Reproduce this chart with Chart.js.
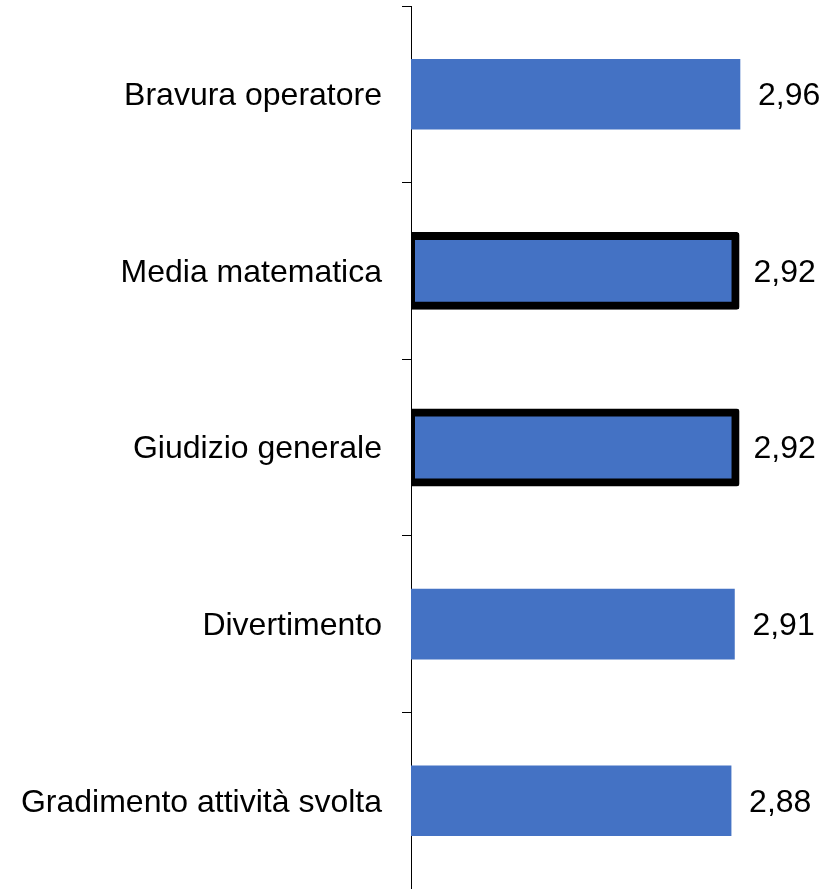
<!DOCTYPE html>
<html>
<head>
<meta charset="utf-8">
<script src="https://cdn.jsdelivr.net/npm/chart.js@4"></script>
<style>
  html, body { margin: 0; padding: 0; background: #ffffff; }
  #wrap { width: 827px; height: 889px; }
</style>
</head>
<body>
<div id="wrap"><canvas id="scoreChart"></canvas></div>
<script>
// Categories (top to bottom) and average scores
const categories = [
    'Bravura operatore',
    'Media matematica',
    'Giudizio generale',
    'Divertimento',
    'Gradimento attività svolta'
];
const scores = [2.96, 2.92, 2.92, 2.91, 2.88];
// Categories drawn with a thick black outline
const outlined = ['Media matematica', 'Giudizio generale'];

const BAR_BLUE = '#4472C4';
const FONT = "'Liberation Sans', Arial, sans-serif";

// Category names left of the axis and values right of the bars (decimal comma)
const barLabels = {
    id: 'barLabels',
    afterDatasetsDraw(chart) {
        const ctx = chart.ctx;
        const meta = chart.getDatasetMeta(0);
        const axisX = chart.scales.y.right;
        ctx.save();
        ctx.font = '32px ' + FONT;
        ctx.fillStyle = '#000000';
        ctx.textBaseline = 'middle';
        meta.data.forEach((bar, i) => {
            ctx.textAlign = 'right';
            ctx.fillText(categories[i], axisX - 29, bar.y + 2);
            ctx.textAlign = 'left';
            const text = scores[i].toFixed(2).replace('.', ',');
            ctx.fillText(text, bar.x + 18, bar.y + 2);
        });
        ctx.restore();
    }
};

const isOutlined = (ctx) => outlined.includes(categories[ctx.dataIndex]);

new Chart(document.getElementById('scoreChart'), {
    type: 'bar',
    data: {
        labels: categories,
        datasets: [{
            data: scores,
            backgroundColor: BAR_BLUE,
            borderColor: '#000000',
            borderWidth: (ctx) => isOutlined(ctx) ? 8 : 0,
            inflateAmount: (ctx) => isOutlined(ctx) ? 4 : 0.33,
            borderSkipped: false,
            borderRadius: (ctx) => isOutlined(ctx) ? 3 : 0,
            categoryPercentage: 1,
            barPercentage: 0.396,
            clip: { left: 0, top: false, right: false, bottom: false }
        }]
    },
    options: {
        indexAxis: 'y',
        responsive: true,
        maintainAspectRatio: false,
        animation: false,
        layout: {
            padding: { top: 6, right: 27, bottom: 0, left: 0 }
        },
        plugins: {
            legend: { display: false },
            title: { display: false },
            tooltip: { enabled: false }
        },
        scales: {
            x: {
                display: false,
                min: 0,
                max: 3.5
            },
            y: {
                afterFit: function(scale) {
                    scale.width = 411;
                    scale.paddingTop = 0;
                    scale.paddingBottom = 0;
                },
                grid: {
                    offset: true,
                    drawOnChartArea: false,
                    drawTicks: true,
                    tickLength: 9,
                    tickColor: '#000000',
                    tickWidth: 1
                },
                border: {
                    display: true,
                    color: '#000000',
                    width: 1
                },
                ticks: {
                    display: false
                }
            }
        }
    },
    plugins: [barLabels]
});
</script>
</body>
</html>
